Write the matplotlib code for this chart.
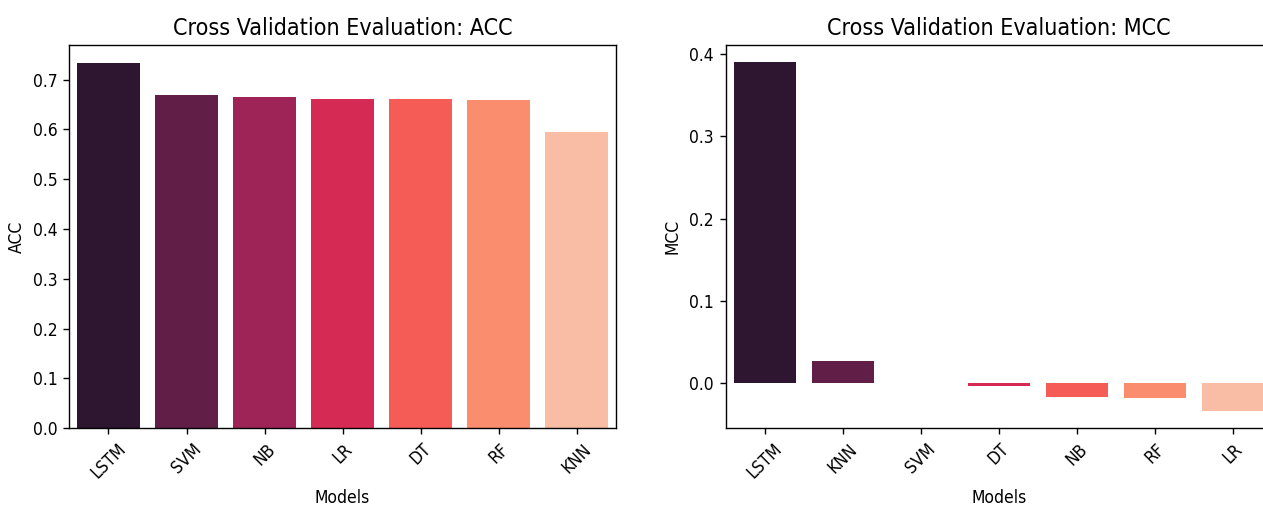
import matplotlib
matplotlib.use("Agg")
import matplotlib.pyplot as plt

# ====== Data ======
acc_models = ["LSTM", "SVM", "NB", "LR", "DT", "RF", "KNN"]
acc_values = [0.733, 0.669, 0.665, 0.662, 0.661, 0.659, 0.595]

mcc_models = ["LSTM", "KNN", "SVM", "DT", "NB", "RF", "LR"]
mcc_values = [0.390, 0.0265, 0.0, -0.0033, -0.0163, -0.0183, -0.0334]

# rocket-style colours, one per bar position
palette = ["#2e1530", "#611f48", "#9e2357", "#d42a54",
           "#f55c55", "#f98d6e", "#f9bca4"]

plt.rcParams["font.family"] = "DejaVu Sans"
plt.rcParams["font.stretch"] = "condensed"

DPI = 125
fig = plt.figure(figsize=(1263 / DPI, 506 / DPI), dpi=DPI)

# axes placed by hand; the right panel runs slightly past the canvas edge
ax1 = fig.add_axes([0.055, 0.154, 0.4325, 0.757])
ax2 = fig.add_axes([0.5746, 0.154, 0.4325, 0.757])


def draw(ax, models, values, metric):
    x = range(len(models))
    ax.bar(x, values, width=0.8, color=palette)
    ax.set_xticks(list(x))
    ax.set_xticklabels(models, rotation=45)
    ax.set_xlim(-0.5, len(models) - 0.5)
    ax.set_xlabel("Models")
    ax.set_ylabel(metric)
    ax.set_title(f"Cross Validation Evaluation: {metric}", fontsize=13.3)


draw(ax1, acc_models, acc_values, "ACC")
draw(ax2, mcc_models, mcc_values, "MCC")

fig.savefig("out.png", dpi=DPI)
